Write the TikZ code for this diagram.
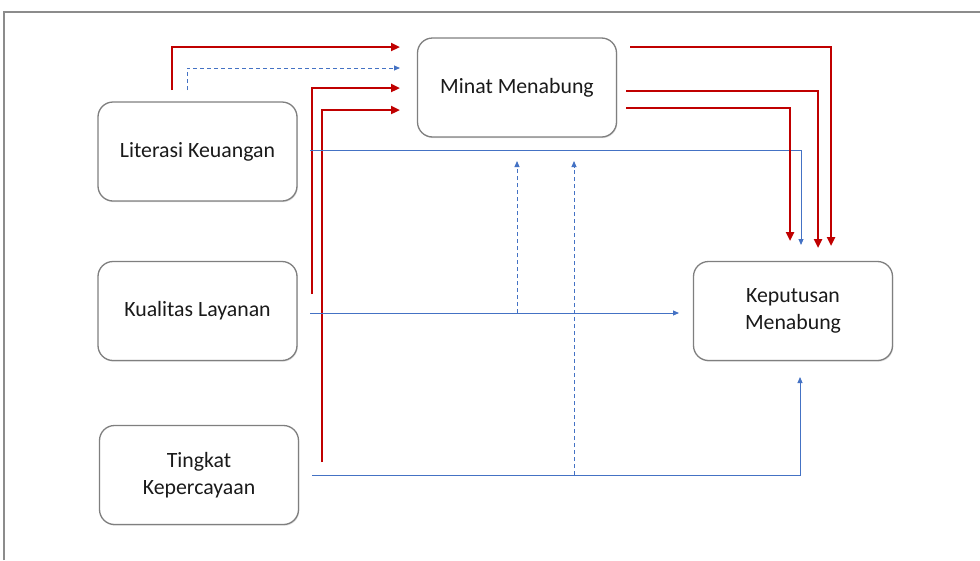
\documentclass[tikz,border=0pt]{standalone}
\usepackage{fontspec}
\setmainfont{Carlito}
\usetikzlibrary{arrows.meta,shadows}
\definecolor{boxgray}{HTML}{7F7F7F}
\definecolor{framegray}{HTML}{8C8C8C}
\definecolor{redline}{HTML}{C00000}
\definecolor{blueline}{HTML}{4472C4}
\definecolor{textcol}{HTML}{1A1A1A}
\begin{document}
\begin{tikzpicture}[x=1pt,y=-1pt,
  box/.style={draw=boxgray, line width=1.3pt, rounded corners=15pt, fill=white,
    minimum width=199pt, minimum height=99pt, align=center, inner sep=0pt,
    text=textcol, font=\fontsize{21.8}{27}\selectfont,
    drop shadow={opacity=0.25, shadow xshift=0.8pt, shadow yshift=-1.2pt}},
  redarr/.style={draw=redline, line width=2.8pt, -{Triangle[length=9pt,width=8pt]}},
  bluearr/.style={draw=blueline, line width=0.9pt, -{Triangle[length=6pt,width=5pt]}},
  bluedash/.style={draw=blueline, line width=0.9pt, dash pattern=on 4pt off 3pt, -{Triangle[length=6pt,width=5pt]}}
]
\useasboundingbox (0,0) rectangle (980,560);
\draw[framegray, line width=1.2pt] (4,560) -- (4,12) -- (980,12);

\node[box] (lit) at (197.5,151.5) {Literasi Keuangan};
\node[box] (kual) at (197.5,311) {Kualitas Layanan};
\node[box] (ting) at (199,475) {Tingkat\\Kepercayaan};
\node[box] (minat) at (517,87.5) {Minat Menabung};
\node[box] (kep) at (793,311) {Keputusan\\Menabung};

% start / end points
\coordinate (r1s) at (172,90);   \coordinate (r1e) at (400,47);
\coordinate (b1s) at (187,90);   \coordinate (b1e) at (400,68);
\coordinate (r2s) at (312,294);  \coordinate (r2e) at (400,88);
\coordinate (r3s) at (322,462);  \coordinate (r3e) at (400,110);

\coordinate (ls) at (310,150);   \coordinate (le) at (801,245);
\coordinate (ks) at (310,313);   \coordinate (ke) at (679,313);
\coordinate (ts) at (312,475);   \coordinate (te) at (800,377);

\coordinate (d1s) at (517,313);  \coordinate (d1e) at (517,161);
\coordinate (d2s) at (574,475);  \coordinate (d2e) at (574,161);

\coordinate (m1s) at (630,47);   \coordinate (m1e) at (831,246);
\coordinate (m2s) at (626,91);   \coordinate (m2e) at (818,248);
\coordinate (m3s) at (626,108);  \coordinate (m3e) at (790,241);

% into Minat Menabung
\draw[redarr] (r1s) |- (r1e);
\draw[bluedash] (b1s) |- (b1e);
\draw[redarr] (r2s) |- (r2e);
\draw[redarr] (r3s) |- (r3e);

% direct effects on Keputusan
\draw[bluearr] (ls) -| (le);
\draw[bluearr] (ks) -- (ke);
\draw[bluearr] (ts) -| (te);

% moderation dashed
\draw[bluedash] (d1s) -- (d1e);
\draw[bluedash] (d2s) -- (d2e);

% from Minat to Keputusan
\draw[redarr] (m1s) -| (m1e);
\draw[redarr] (m2s) -| (m2e);
\draw[redarr] (m3s) -| (m3e);
\end{tikzpicture}
\end{document}
